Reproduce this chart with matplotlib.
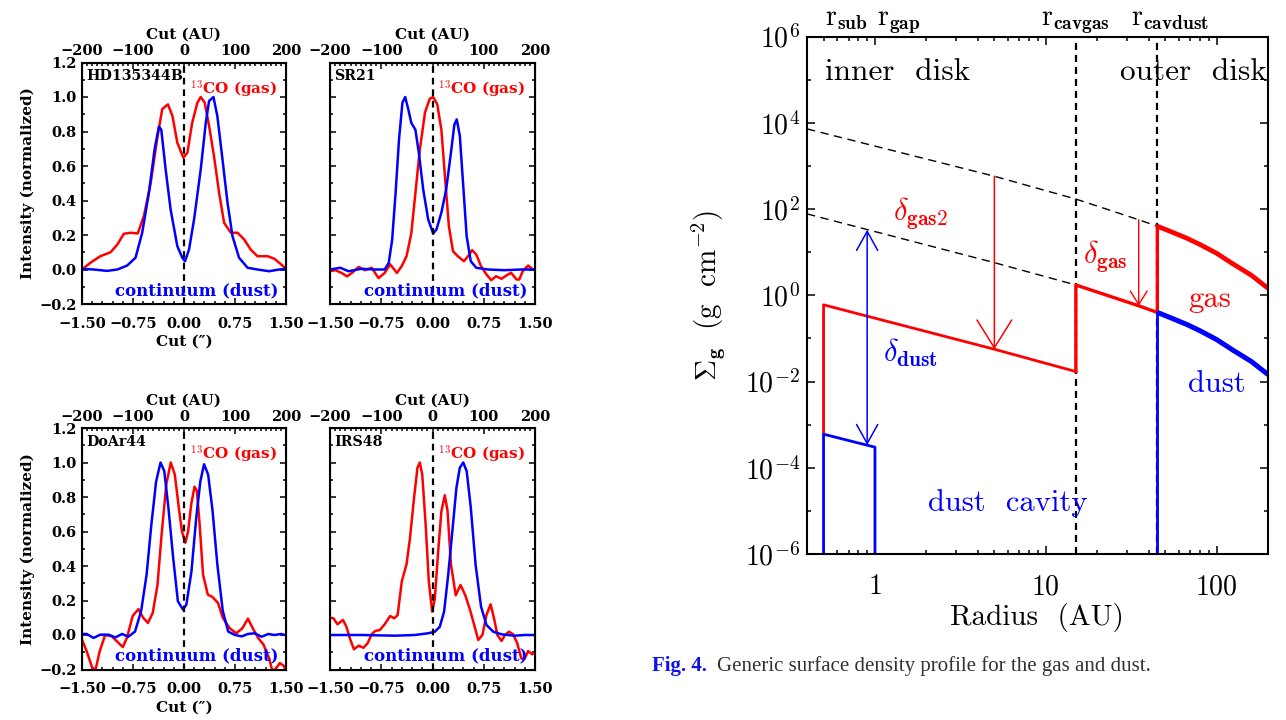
import numpy as np
import matplotlib
matplotlib.use('Agg')
import matplotlib.pyplot as plt
from matplotlib.ticker import MultipleLocator, FixedLocator, NullFormatter, FuncFormatter

plt.rcParams['font.family'] = ['DejaVu Serif']
plt.rcParams['mathtext.fontset'] = 'cm'

RED = '#ff0000'
BLUE = '#0000ff'

# ---------------- intensity cuts: offset (arcsec) vs normalized intensity ----------------
names = ['HD135344B', 'SR21', 'DoAr44', 'IRS48']

hd_gas_x = [-1.5, -1.377, -1.23, -1.08, -0.98, -0.885, -0.787, -0.68, -0.59, -0.49, -0.39, -0.32,
            -0.236, -0.17, -0.098, -0.01, 0.05, 0.12, 0.197, 0.246, 0.305, 0.37, 0.44, 0.516, 0.59,
            0.69, 0.787, 0.885, 0.98, 1.08, 1.23, 1.33, 1.43, 1.5]
hd_gas_y = [0.0, 0.039, 0.077, 0.10, 0.145, 0.207, 0.213, 0.209, 0.31, 0.50, 0.77, 0.93,
            0.957, 0.89, 0.735, 0.648, 0.677, 0.85, 0.967, 1.0, 0.967, 0.83, 0.66, 0.445, 0.27,
            0.213, 0.213, 0.174, 0.116, 0.077, 0.077, 0.062, 0.029, 0.004]
hd_dust_x = [-1.5, -1.33, -1.13, -0.98, -0.836, -0.713, -0.615, -0.516, -0.433, -0.369, -0.334,
             -0.27, -0.197, -0.098, -0.025, 0.015, 0.074, 0.148, 0.246, 0.32, 0.369, 0.433, 0.49,
             0.566, 0.64, 0.713, 0.81, 0.935, 1.08, 1.25, 1.40, 1.5]
hd_dust_y = [0.004, 0.0, -0.008, 0.0, 0.023, 0.068, 0.213, 0.445, 0.696, 0.828, 0.81,
             0.58, 0.348, 0.135, 0.068, 0.048, 0.116, 0.29, 0.58, 0.85, 0.977, 1.0, 0.89,
             0.638, 0.387, 0.193, 0.068, 0.01, 0.0, -0.01, 0.0, 0.004]

sr_gas_x = [-1.5, -1.42, -1.33, -1.25, -1.18, -1.08, -0.99, -0.89, -0.79, -0.70, -0.62, -0.52,
            -0.45, -0.38, -0.31, -0.25, -0.185, -0.11, -0.04, 0.01, 0.07, 0.13, 0.19, 0.24, 0.30,
            0.37, 0.46, 0.52, 0.58, 0.64, 0.71, 0.79, 0.86, 0.93, 1.01, 1.08, 1.15, 1.23, 1.27,
            1.32, 1.40, 1.47, 1.5]
sr_gas_y = [-0.01, -0.004, -0.02, -0.04, -0.02, 0.015, -0.004, 0.01, -0.05, -0.02, 0.03, -0.02,
            0.02, 0.077, 0.21, 0.445, 0.696, 0.91, 0.99, 1.0, 0.957, 0.81, 0.50, 0.25, 0.106,
            0.077, 0.048, 0.077, 0.112, 0.087, 0.019, -0.029, -0.062, -0.039, -0.054, -0.035,
            -0.019, -0.058, -0.058, -0.01, 0.023, 0.0, 0.004]
sr_dust_x = [-1.5, -1.35, -1.23, -1.04, -0.84, -0.70, -0.64, -0.59, -0.54, -0.49, -0.44, -0.40,
             -0.355, -0.31, -0.25, -0.20, -0.136, -0.063, 0.01, 0.058, 0.13, 0.20, 0.27, 0.32,
             0.355, 0.40, 0.45, 0.50, 0.56, 0.64, 0.81, 1.05, 1.30, 1.5]
sr_dust_y = [0.0, 0.01, -0.01, 0.004, 0.0, 0.0, 0.039, 0.174, 0.445, 0.754, 0.967, 1.0,
             0.93, 0.85, 0.81, 0.677, 0.464, 0.29, 0.209, 0.232, 0.33, 0.464, 0.677, 0.84,
             0.87, 0.774, 0.484, 0.193, 0.048, 0.01, 0.0, -0.004, 0.0, 0.0]

do_gas_x = [-1.5, -1.43, -1.35, -1.30, -1.24, -1.16, -1.06, -0.96, -0.90, -0.84, -0.755, -0.67,
            -0.60, -0.53, -0.46, -0.39, -0.33, -0.26, -0.195, -0.135, -0.077, -0.03, 0.02, 0.06,
            0.107, 0.155, 0.19, 0.23, 0.28, 0.35, 0.42, 0.50, 0.57, 0.67, 0.77, 0.86, 0.94, 1.01,
            1.09, 1.17, 1.25, 1.30, 1.36, 1.41, 1.47, 1.5]
do_gas_y = [-0.027, -0.095, -0.19, -0.20, -0.095, 0.0, -0.008, -0.047, -0.07, -0.017, 0.11, 0.15,
            0.10, 0.07, 0.128, 0.29, 0.58, 0.874, 1.0, 0.93, 0.74, 0.60, 0.535, 0.60,
            0.76, 0.86, 0.835, 0.64, 0.35, 0.234, 0.22, 0.186, 0.10, 0.04, 0.01, 0.04, 0.095, 0.04,
            -0.017, -0.056, -0.134, -0.21, -0.19, -0.163, -0.18, -0.21]
do_dust_x = [-1.5, -1.43, -1.33, -1.23, -1.11, -1.01, -0.91, -0.82, -0.72, -0.63, -0.55, -0.48,
             -0.41, -0.345, -0.29, -0.23, -0.16, -0.09, -0.015, 0.035, 0.11, 0.18, 0.24, 0.295,
             0.355, 0.42, 0.49, 0.57, 0.65, 0.75, 0.85, 0.94, 1.04, 1.14, 1.24, 1.33, 1.43, 1.5]
do_dust_y = [0.006, 0.006, -0.017, 0.002, 0.002, -0.014, 0.006, -0.01, 0.02, 0.14, 0.35, 0.64,
             0.89, 1.0, 0.95, 0.74, 0.45, 0.196, 0.147, 0.176, 0.37, 0.68, 0.89, 0.99,
             0.93, 0.72, 0.41, 0.14, 0.02, 0.0, -0.008, 0.006, 0.01, -0.01, 0.006, 0.0, 0.006, -0.002]

irs_gas_x = [-1.5, -1.45, -1.39, -1.31, -1.26, -1.21, -1.15, -1.08, -1.01, -0.95, -0.89, -0.84,
             -0.77, -0.70, -0.62, -0.56, -0.51, -0.45, -0.38, -0.33, -0.27, -0.22, -0.185, -0.15,
             -0.10, -0.054, -0.005, 0.034, 0.083, 0.13, 0.18, 0.22, 0.27, 0.34, 0.41, 0.48, 0.55,
             0.61, 0.67, 0.73, 0.79, 0.85, 0.90, 0.95, 1.01, 1.06, 1.12, 1.18, 1.24, 1.30, 1.35,
             1.40, 1.46, 1.5]
irs_gas_y = [0.10, 0.097, 0.062, 0.087, 0.048, -0.019, -0.083, -0.062, -0.074, -0.048, 0.004, 0.023,
             0.029, 0.062, 0.11, 0.097, 0.116, 0.31, 0.41, 0.56, 0.795, 0.97, 1.0, 0.93,
             0.64, 0.31, 0.136, 0.21, 0.485, 0.717, 0.81, 0.72, 0.41, 0.23, 0.29, 0.23, 0.145,
             0.058, -0.029, 0.0, 0.116, 0.178, 0.097, 0.0, -0.035, 0.0, 0.019, 0.004, -0.048, -0.136,
             -0.136, -0.093, -0.112, -0.10]
irs_dust_x = [-1.5, -1.04, -0.55, -0.26, -0.063, 0.034, 0.107, 0.17, 0.23, 0.29, 0.35, 0.40, 0.45,
              0.50, 0.56, 0.63, 0.71, 0.79, 0.89, 1.01, 1.20, 1.35, 1.5]
irs_dust_y = [0.0, 0.0, -0.004, 0.0, 0.01, 0.019, 0.048, 0.136, 0.35, 0.60, 0.853, 0.97, 1.0,
              0.95, 0.74, 0.41, 0.165, 0.058, 0.019, 0.004, -0.004, 0.0, 0.0]

cut_ticks = [-1.5, -0.75, 0.0, 0.75, 1.5]
au_ticks = [-200, -100, 0, 100, 200]
int_ticks = [-0.2, 0.0, 0.2, 0.4, 0.6, 0.8, 1.0, 1.2]

# ---------------- surface density model: radius (AU) vs Sigma (g cm^-2) ----------------
r_sub, r_gap, r_cavgas, r_cavdust = 0.5, 1.0, 15.0, 45.0

full_r = [0.4, 5.0, 15.0, 30.0, 45.0]
full_sig = [7.2e3, 575.0, 170.0, 69.0, 40.0]
dep_r = [0.4, 5.0, 15.0]
dep_sig = [77.0, 5.7, 1.73]
gas_in_r = [r_sub, r_sub, 5.0, r_cavgas]
gas_in_sig = [6e-4, 0.6, 0.056, 0.017]
gas_mid_r = [r_cavgas, r_cavgas, 35.0, r_cavdust, r_cavdust]
gas_mid_sig = [0.017, 1.73, 0.57, 0.40, 40.0]
out_r = [45.0, 55.0, 67.0, 80.0, 100.0, 125.0, 160.0, 200.0]
gas_out_sig = [40.0, 29.0, 21.0, 15.0, 9.4, 5.3, 2.9, 1.45]
dust_out_sig = [0.40, 0.29, 0.21, 0.15, 0.094, 0.053, 0.029, 0.0145]
dust_in_r = [r_sub, r_sub, r_gap, r_gap]
dust_in_sig = [1e-6, 6e-4, 3e-4, 1e-6]

W, H = 1286, 720
fig = plt.figure(figsize=(W / 100, H / 100), dpi=100)


def rect(x0, y0, x1, y1):
    return [x0 / W, 1 - y1 / H, (x1 - x0) / W, (y1 - y0) / H]


def minus(s):
    return s.replace('-', '\u2212')


def cut_panel(box, name, gx, gy, dx, dy, show_y, show_xlab):
    ax = fig.add_axes(box)
    ax.plot(gx, gy, color=RED, lw=1.8)
    ax.plot(dx, dy, color=BLUE, lw=1.8)
    ax.axvline(0, color='k', lw=1.6, ls=(0, (3, 2.2)))
    ax.set_xlim(-1.5, 1.5)
    ax.set_ylim(-0.2, 1.2)
    ax.xaxis.set_major_locator(FixedLocator(cut_ticks))
    ax.xaxis.set_minor_locator(MultipleLocator(0.15))
    ax.yaxis.set_major_locator(FixedLocator(int_ticks))
    ax.yaxis.set_minor_locator(MultipleLocator(0.1))
    ax.xaxis.set_major_formatter(FuncFormatter(lambda v, p: minus(f'{v:.2f}')))
    ax.yaxis.set_major_formatter(FuncFormatter(lambda v, p: minus(f'{v:.1f}')))
    ax.tick_params(which='both', direction='in', right=True, width=1.1)
    ax.tick_params(which='major', length=4.5, labelsize=10.5)
    ax.tick_params(which='minor', length=2.2)
    ax.tick_params(axis='x', pad=9)
    ax.tick_params(axis='y', pad=4)
    for lab in ax.get_xticklabels() + ax.get_yticklabels():
        lab.set_fontweight('bold')
    if not show_y:
        ax.set_yticklabels([])
    else:
        ax.set_ylabel('Intensity (normalized)', fontsize=11, fontweight='bold', labelpad=3)
    if show_xlab:
        ax.set_xlabel('Cut (\u2033)', fontsize=11, fontweight='bold', labelpad=3)
    for sp in ax.spines.values():
        sp.set_linewidth(1.5)
    top = ax.twiny()
    top.set_xlim(-200, 200)
    top.xaxis.set_major_locator(FixedLocator(au_ticks))
    top.xaxis.set_minor_locator(MultipleLocator(10))
    top.xaxis.set_major_formatter(FuncFormatter(lambda v, p: minus(f'{v:.0f}')))
    top.tick_params(which='both', direction='in', width=1.1)
    top.tick_params(which='major', length=4.5, pad=3, labelsize=10.5)
    top.tick_params(which='minor', length=2.2)
    for lab in top.get_xticklabels():
        lab.set_fontweight('bold')
    top.set_xlabel('Cut (AU)', fontsize=11, fontweight='bold', labelpad=4)
    ax.text(0.02, 0.927, name, transform=ax.transAxes, fontsize=10.2, fontweight='bold',
            ha='left', va='baseline')
    ax.text(0.527, 0.867, r'$^{\mathbf{13}}$CO (gas)', transform=ax.transAxes, fontsize=11,
            fontweight='bold', color=RED, ha='left', va='baseline')
    ax.text(0.962, 0.037, 'continuum (dust)', transform=ax.transAxes, fontsize=12,
            fontweight='bold', color=BLUE, ha='right', va='baseline')
    return ax


cut_panel(rect(82, 62.5, 286, 304), names[0], hd_gas_x, hd_gas_y, hd_dust_x, hd_dust_y, True, True)
cut_panel(rect(330, 62.5, 535, 304), names[1], sr_gas_x, sr_gas_y, sr_dust_x, sr_dust_y, False, False)
cut_panel(rect(82, 428, 286, 669.5), names[2], do_gas_x, do_gas_y, do_dust_x, do_dust_y, True, True)
cut_panel(rect(330, 428, 535, 669.5), names[3], irs_gas_x, irs_gas_y, irs_dust_x, irs_dust_y, False, False)

# ---------------- right panel ----------------
ax = fig.add_axes(rect(807, 36.5, 1268, 554))
ax.set_xscale('log')
ax.set_yscale('log')
ax.set_xlim(0.4, 200)
ax.set_ylim(1e-6, 1e6)

ax.plot(full_r, full_sig, color='k', lw=1.0, ls=(0, (6, 4)))
ax.plot(dep_r, dep_sig, color='k', lw=1.0, ls=(0, (6, 4)))
for rv in [r_cavgas, r_cavdust]:
    ax.plot([rv, rv], [1e-6, 1e6], color='k', lw=1.6, ls=(0, (3.2, 2.2)))

ax.plot(gas_in_r, gas_in_sig, color=RED, lw=2.0)
ax.plot(gas_mid_r, gas_mid_sig, color=RED, lw=2.4)
ax.plot(out_r, gas_out_sig, color=RED, lw=3.4, solid_capstyle='butt')
ax.plot(dust_in_r, dust_in_sig, color=BLUE, lw=2.0)
ax.plot([r_cavdust, r_cavdust], [1e-6, dust_out_sig[0]], color=BLUE, lw=2.0)
ax.plot(out_r, dust_out_sig, color=BLUE, lw=3.6, solid_capstyle='butt')

ax.annotate('', xy=(5.0, 0.056), xytext=(5.0, 575.0),
            arrowprops=dict(arrowstyle='->,head_length=2.0,head_width=1.25', color=RED, lw=1.1,
                            shrinkA=0, shrinkB=0, mutation_scale=10))
ax.annotate('', xy=(35.0, 0.57), xytext=(35.0, 56.0),
            arrowprops=dict(arrowstyle='->,head_length=0.97,head_width=0.61', color=RED, lw=1.0,
                            shrinkA=0, shrinkB=0, mutation_scale=10))
ax.annotate('', xy=(0.9, 3.35e-4), xytext=(0.9, 33.0),
            arrowprops=dict(arrowstyle='<->,head_length=1.37,head_width=0.76', color=BLUE, lw=1.1,
                            shrinkA=0, shrinkB=0, mutation_scale=10))

ax.xaxis.set_major_locator(FixedLocator([1, 10, 100]))
ax.xaxis.set_minor_locator(FixedLocator([0.4, 0.5, 0.6, 0.7, 0.8, 0.9, 2, 3, 4, 5, 6, 7, 8, 9,
                                         20, 30, 40, 50, 60, 70, 80, 90]))
ax.xaxis.set_minor_formatter(NullFormatter())
ax.set_xticklabels([r'$1$', r'$10$', r'$100$'])
yexp = [-6, -4, -2, 0, 2, 4, 6]
ax.yaxis.set_major_locator(FixedLocator([10.0 ** e for e in yexp]))
ax.yaxis.set_minor_locator(FixedLocator([10.0 ** e for e in [-5, -3, -1, 1, 3, 5]]))
ax.yaxis.set_minor_formatter(NullFormatter())
ax.set_yticklabels([r'$10^{%d}$' % e for e in yexp])
ax.tick_params(which='both', direction='in', top=True, right=True, width=1.1)
ax.tick_params(which='major', length=6, labelsize=20)
ax.tick_params(which='minor', length=3)
ax.tick_params(axis='x', pad=14)
ax.tick_params(axis='y', pad=5)
for sp in ax.spines.values():
    sp.set_linewidth(1.5)

cm = dict(family='cmr10')
ax.text(0.507, 1e5, 'inner  disk', fontsize=22.5, ha='left', va='baseline', **cm)
ax.text(197, 1e5, 'outer  disk', fontsize=22.5, ha='right', va='baseline', **cm)
ax.text(68, 0.54, 'gas', fontsize=22, color=RED, ha='left', va='baseline', **cm)
ax.text(68, 0.0058, 'dust', fontsize=22, color=BLUE, ha='left', va='baseline', **cm)
ax.text(2.05, 1.0e-5, 'dust  cavity', fontsize=22, color=BLUE, ha='left', va='baseline', **cm)
ax.text(1.27, 55, r'$\delta_{\mathbf{gas2}}$', fontsize=22, color=RED, ha='left', va='baseline')
ax.text(16.6, 5.6, r'$\delta_{\mathbf{gas}}$', fontsize=22, color=RED, ha='left', va='baseline')
ax.text(1.12, 0.028, r'$\delta_{\mathbf{dust}}$', fontsize=22, color=BLUE, ha='left', va='baseline')

tr = ax.get_xaxis_transform()
ax.text(0.507, 1.022, r'$\mathrm{r}_{\mathbf{sub}}$', transform=tr, fontsize=20, ha='left', va='baseline')
ax.text(1.03, 1.022, r'$\mathrm{r}_{\mathbf{gap}}$', transform=tr, fontsize=20, ha='left', va='baseline')
ax.text(9.4, 1.022, r'$\mathrm{r}_{\mathbf{cavgas}}$', transform=tr, fontsize=20, ha='left', va='baseline')
ax.text(31.7, 1.022, r'$\mathrm{r}_{\mathbf{cavdust}}$', transform=tr, fontsize=20, ha='left', va='baseline')

fig.text(708 / W, 1 - 295 / H, r'$\Sigma_{\mathbf{g}}\ \ (\mathrm{g\ \ cm}^{-2})$', fontsize=21,
         rotation=90, ha='center', va='center')
fig.text(1037 / W, 1 - 618 / H, 'Radius  (AU)', fontsize=21, ha='center', va='center', **cm)

fig.text(652 / W, 1 - 666 / H, 'Fig. 4.', fontsize=15, fontweight='bold', color='#1010ee',
         family='Liberation Serif', ha='left', va='center')
fig.text(717 / W, 1 - 666 / H, 'Generic surface density profile for the gas and dust.', fontsize=15,
         color='#333333', family='Liberation Serif', ha='left', va='center')

fig.savefig('out.png', dpi=100)
